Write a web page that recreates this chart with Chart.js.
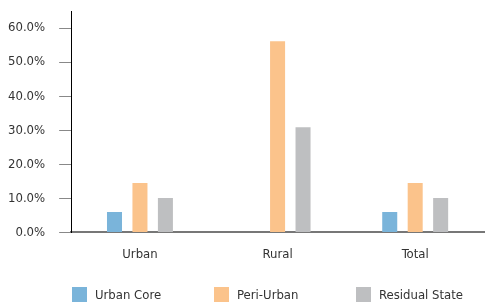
<!DOCTYPE html>
<html>
<head>
<meta charset="utf-8">
<script src="https://cdn.jsdelivr.net/npm/chart.js@4"></script>
<style>
    html, body { margin: 0; padding: 0; background: #fff; }
    #wrap { position: relative; width: 485px; height: 303px; }
    #legend { position: absolute; left: 72px; top: 287px; display: flex; font-family: 'DejaVu Sans Condensed', sans-serif; font-size: 13px; color: #333; }
    .item { display: flex; align-items: center; width: 142px; height: 15px; }
    .box { width: 15px; height: 15px; margin-right: 8px; }
</style>
</head>
<body>
<div id="wrap">
    <canvas id="chart" width="485" height="303"></canvas>
    <div id="legend"></div>
</div>
<script>
const categories = ['Urban', 'Rural', 'Total'];
const seriesNames = ['Urban Core', 'Peri-Urban', 'Residual State'];
const urbanCore = [6.0, null, 6.0];
const periUrban = [14.5, 56.1, 14.5];
const residualState = [10.1, 30.9, 10.1];
const yTicks = [0, 10, 20, 30, 40, 50, 60];
const colors = ['#7ab4da', '#fbc38b', '#bebfc1'];

const font = "'DejaVu Sans Condensed', sans-serif";

const datasets = [urbanCore, periUrban, residualState].map((values, i) => ({
    label: seriesNames[i],
    data: values,
    backgroundColor: colors[i],
    categoryPercentage: 0.555,
    barPercentage: 0.59
}));

const chart = new Chart(document.getElementById('chart'), {
    type: 'bar',
    data: { labels: categories, datasets },
    options: {
        responsive: false,
        animation: false,
        layout: { padding: { left: -6, right: 1, top: 11, bottom: 35 } },
        plugins: { legend: { display: false }, tooltip: { enabled: false } },
        scales: {
            x: {
                grid: { display: false },
                border: { color: '#777', width: 2 },
                ticks: { color: '#333', font: { family: font, size: 13 }, padding: 6 }
            },
            y: {
                min: 0,
                max: 65,
                afterBuildTicks: (axis) => { axis.ticks = yTicks.map(v => ({ value: v })); },
                afterFit: (axis) => { axis.paddingTop = 0; axis.paddingBottom = 0; },
                grid: { drawOnChartArea: false, tickLength: 12, color: '#888' },
                border: { color: '#000', width: 1 },
                ticks: {
                    color: '#333',
                    font: { family: font, size: 13 },
                    padding: 14,
                    callback: (v) => v.toFixed(1) + '%'
                }
            }
        }
    }
});

// Legend drawn from the datasets
const legend = document.getElementById('legend');
chart.data.datasets.forEach(ds => {
    const item = document.createElement('div');
    item.className = 'item';
    item.innerHTML = `<span class="box" style="background:${ds.backgroundColor}"></span><span>${ds.label}</span>`;
    legend.appendChild(item);
});
</script>
</body>
</html>
